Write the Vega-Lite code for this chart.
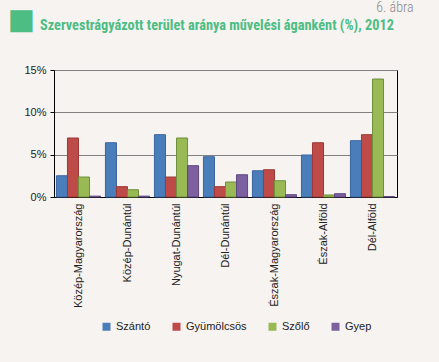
{
  "$schema": "https://vega.github.io/schema/vega-lite/v6.json",
  "autosize": "none",
  "width": 343,
  "height": 127,
  "padding": {"left": 54, "top": 70, "right": 42, "bottom": 165},
  "background": "#f6f3f0",
  "title": {
    "text": "Szervestrágyázott terület aránya művelési áganként (%), 2012",
    "anchor": "start",
    "frame": "group",
    "dx": -14,
    "offset": 0,
    "dy": 33,
    "font": "Roboto Condensed",
    "fontSize": 14.3,
    "fontWeight": "bold",
    "color": "#4dbd84"
  },
  "data": {
    "values": [
      {"region": "Közép-Magyarország", "type": "Szántó", "value": 2.51},
      {"region": "Közép-Magyarország", "type": "Gyümölcsös", "value": 6.97},
      {"region": "Közép-Magyarország", "type": "Szőlő", "value": 2.36},
      {"region": "Közép-Magyarország", "type": "Gyep", "value": 0.1},
      {"region": "Közép-Dunántúl", "type": "Szántó", "value": 6.41},
      {"region": "Közép-Dunántúl", "type": "Gyümölcsös", "value": 1.22},
      {"region": "Közép-Dunántúl", "type": "Szőlő", "value": 0.86},
      {"region": "Közép-Dunántúl", "type": "Gyep", "value": 0.1},
      {"region": "Nyugat-Dunántúl", "type": "Szántó", "value": 7.36},
      {"region": "Nyugat-Dunántúl", "type": "Gyümölcsös", "value": 2.36},
      {"region": "Nyugat-Dunántúl", "type": "Szőlő", "value": 6.97},
      {"region": "Nyugat-Dunántúl", "type": "Gyep", "value": 3.7},
      {"region": "Dél-Dunántúl", "type": "Szántó", "value": 4.76},
      {"region": "Dél-Dunántúl", "type": "Gyümölcsös", "value": 1.22},
      {"region": "Dél-Dunántúl", "type": "Szőlő", "value": 1.77},
      {"region": "Dél-Dunántúl", "type": "Gyep", "value": 2.63},
      {"region": "Észak-Magyarország", "type": "Szántó", "value": 3.1},
      {"region": "Észak-Magyarország", "type": "Gyümölcsös", "value": 3.22},
      {"region": "Észak-Magyarország", "type": "Szőlő", "value": 1.92},
      {"region": "Észak-Magyarország", "type": "Gyep", "value": 0.27},
      {"region": "Észak-Alföld", "type": "Szántó", "value": 4.96},
      {"region": "Észak-Alföld", "type": "Gyümölcsös", "value": 6.41},
      {"region": "Észak-Alföld", "type": "Szőlő", "value": 0.24},
      {"region": "Észak-Alföld", "type": "Gyep", "value": 0.39},
      {"region": "Dél-Alföld", "type": "Szántó", "value": 6.65},
      {"region": "Dél-Alföld", "type": "Gyümölcsös", "value": 7.36},
      {"region": "Dél-Alföld", "type": "Szőlő", "value": 13.93},
      {"region": "Dél-Alföld", "type": "Gyep", "value": 0.05}
    ]
  },
  "mark": {"type": "bar", "strokeWidth": 1},
  "encoding": {
    "x": {
      "field": "region",
      "type": "nominal",
      "sort": null,
      "scale": {"paddingInner": 0.1, "paddingOuter": 0.05},
      "axis": {
        "title": "■",
        "titleX": -47,
        "titleY": -169,
        "titleAlign": "left",
        "titleAnchor": null,
        "titleFontSize": 29,
        "titleFont": "DejaVu Sans",
        "titleFontWeight": "normal",
        "titleColor": "#4dbd84",
        "titleBaseline": "alphabetic",
        "labelAngle": -90,
        "labelAlign": "right",
        "labelBaseline": "middle",
        "labelFont": "Liberation Sans",
        "labelFontSize": 11,
        "labelColor": "#222222",
        "labelPadding": 6,
        "domainColor": "#000000",
        "ticks": false
      }
    },
    "xOffset": {"field": "type", "type": "nominal", "sort": ["Szántó", "Gyümölcsös", "Szőlő", "Gyep"]},
    "y": {
      "field": "value",
      "type": "quantitative",
      "scale": {"domain": [0, 15], "nice": false},
      "axis": {
        "values": [0, 5, 10, 15],
        "labelExpr": "datum.value + '%'",
        "title": "6. ábra",
        "titleX": 359,
        "titleY": -59,
        "titleAngle": 0,
        "titleAlign": "right",
        "titleAnchor": null,
        "titleBaseline": "alphabetic",
        "titleFont": "Roboto Condensed",
        "titleFontWeight": 300,
        "titleFontSize": 14,
        "titleColor": "#8a8a8a",
        "labelFont": "Liberation Sans",
        "labelFontSize": 11,
        "labelColor": "#222222",
        "labelPadding": 4,
        "domainColor": "#000000",
        "tickColor": "#000000",
        "tickSize": 4,
        "grid": true,
        "gridColor": "#808080",
        "gridWidth": 1
      }
    },
    "color": {
      "field": "type",
      "type": "nominal",
      "sort": ["Szántó", "Gyümölcsös", "Szőlő", "Gyep"],
      "scale": {"domain": ["Szántó", "Gyümölcsös", "Szőlő", "Gyep"], "range": ["#4a7ebb", "#be4b48", "#98b954", "#7d60a0"]},
      "legend": {
        "title": null,
        "orient": "none",
        "direction": "horizontal",
        "legendX": 47,
        "legendY": 251,
        "symbolType": "square",
        "symbolSize": 64,
        "symbolStrokeWidth": 0,
        "labelFont": "Liberation Sans",
        "labelFontSize": 11,
        "labelColor": "#222222",
        "columnPadding": 20,
        "labelOffset": 4
      }
    },
    "stroke": {
      "field": "type",
      "type": "nominal",
      "scale": {"domain": ["Szántó", "Gyümölcsös", "Szőlő", "Gyep"], "range": ["#3a64a0", "#9c3a38", "#6f8f3a", "#5e4880"]},
      "legend": null
    }
  },
  "config": {
    "view": {"stroke": "#000000", "strokeWidth": 1}
  }
}
